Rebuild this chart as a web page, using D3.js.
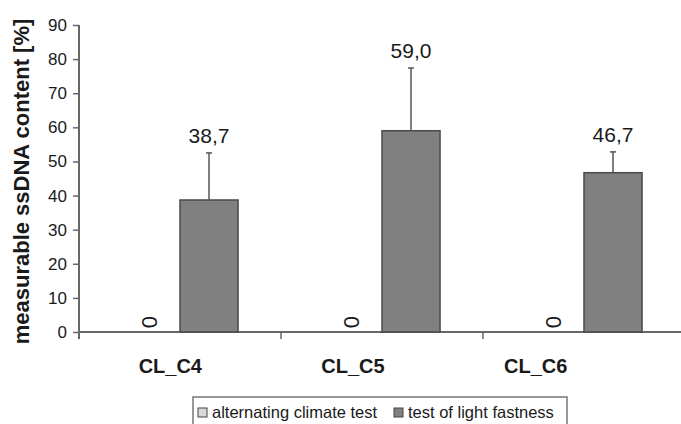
<!DOCTYPE html>
<html>
<head>
<meta charset="utf-8">
<script src="https://cdn.jsdelivr.net/npm/d3@7"></script>
<style>
  body { margin: 0; background: #fff; }
  text { font-family: "Liberation Sans", Arial, sans-serif; fill: #1a1a1a; }
</style>
</head>
<body>
<div id="chart"></div>
<script>
// data
var categories = ["CL_C4", "CL_C5", "CL_C6"]
var series = ["alternating climate test", "test of light fastness"]
var climateValues = [0, 0, 0]
var lightValues = [38.7, 59.0, 46.7]
var lightErrors = [13.8, 18.4, 6.1]
var valueLabels = ["38,7", "59,0", "46,7"]
var yTicks = [0, 10, 20, 30, 40, 50, 60, 70, 80, 90]

var W = 681, H = 424
var margin = {top: 25, left: 79, bottom: 92}
var plotH = H - margin.top - margin.bottom

var svg = d3.select("#chart")
  .append("svg")
    .attr("width", W)
    .attr("height", H)

var y = d3.scaleLinear()
  .domain([0, 90])
  .range([margin.top + plotH, margin.top])

var x = d3.scaleBand()
  .domain(categories)
  .range([margin.left, 685])

var xSub = d3.scaleBand()
  .domain(series)
  .range([0, x.bandwidth()])
  .paddingOuter(0.74)

// category labels sit a little left of the groups in the original
var xLabel = d3.scaleBand()
  .domain(categories)
  .range([margin.left, 627])

// y axis
var yAxis = svg.append("g")
  .attr("transform", "translate(" + margin.left + ",0)")
  .call(d3.axisLeft(y).tickValues(yTicks).tickSize(6).tickPadding(6))
yAxis.select(".domain").remove()
yAxis.selectAll(".tick line").attr("stroke", "#666").attr("stroke-width", 1.5)
yAxis.selectAll(".tick text")
  .style("font-size", "17px")
  .style("font-family", "'Liberation Sans', Arial, sans-serif")
  .attr("fill", "#1a1a1a")

svg.append("line")
  .attr("x1", margin.left).attr("x2", margin.left)
  .attr("y1", y(90)).attr("y2", y(0) + 7)
  .attr("stroke", "#666").attr("stroke-width", 2)

// x axis
svg.append("line")
  .attr("x1", margin.left).attr("x2", W)
  .attr("y1", y(0)).attr("y2", y(0))
  .attr("stroke", "#666").attr("stroke-width", 2)

svg.append("g")
  .selectAll("line")
  .data(categories.slice(1))
  .enter()
  .append("line")
    .attr("x1", d => x(d)).attr("x2", d => x(d))
    .attr("y1", y(0)).attr("y2", y(0) + 7)
    .attr("stroke", "#666").attr("stroke-width", 1.5)

svg.append("g")
  .selectAll("text")
  .data(categories)
  .enter()
  .append("text")
    .attr("x", d => xLabel(d) + xLabel.bandwidth() / 2)
    .attr("y", y(0) + 41)
    .attr("text-anchor", "middle")
    .style("font-size", "20px")
    .style("font-weight", "bold")
    .text(d => d)

// bars: light fastness
svg.append("g")
  .selectAll("rect")
  .data(categories)
  .enter()
  .append("rect")
    .attr("x", d => x(d) + xSub(series[1]))
    .attr("y", (d, i) => y(lightValues[i]))
    .attr("width", xSub.bandwidth())
    .attr("height", (d, i) => y(0) - y(lightValues[i]))
    .attr("fill", "#808080")
    .attr("stroke", "#4a4a4a")
    .attr("stroke-width", 1.5)

// error bars
var err = svg.append("g")
categories.forEach(function (d, i) {
  var cx = x(d) + xSub(series[1]) + xSub.bandwidth() / 2
  err.append("line")
    .attr("x1", cx).attr("x2", cx)
    .attr("y1", y(lightValues[i])).attr("y2", y(lightValues[i] + lightErrors[i]))
    .attr("stroke", "#555").attr("stroke-width", 1.5)
  err.append("line")
    .attr("x1", cx - 3).attr("x2", cx + 3)
    .attr("y1", y(lightValues[i] + lightErrors[i])).attr("y2", y(lightValues[i] + lightErrors[i]))
    .attr("stroke", "#555").attr("stroke-width", 1.5)
  svg.append("text")
    .attr("x", cx)
    .attr("y", y(lightValues[i] + lightErrors[i]) - 10)
    .attr("text-anchor", "middle")
    .style("font-size", "21px")
    .text(valueLabels[i])
})

// zero labels for climate test, rotated
svg.append("g")
  .selectAll("text")
  .data(categories)
  .enter()
  .append("text")
    .attr("transform", (d, i) => "translate(" + (x(d) + xSub(series[0]) + xSub.bandwidth() / 2 - 2) + "," + (y(climateValues[i]) - 10) + ") rotate(-90)")
    .attr("text-anchor", "middle")
    .attr("dy", "0.35em")
    .style("font-size", "22px")
    .text((d, i) => climateValues[i])

// y title
svg.append("text")
  .attr("transform", "translate(29," + (margin.top + plotH / 2 + 3) + ") rotate(-90)")
  .attr("text-anchor", "middle")
  .style("font-size", "22px")
  .style("font-weight", "bold")
  .text("measurable ssDNA content [%]")

// legend
var legend = svg.append("g").attr("transform", "translate(193,397)")
legend.append("rect")
  .attr("x", 0).attr("y", 0)
  .attr("width", 374).attr("height", 40)
  .attr("fill", "#fff")
  .attr("stroke", "#777")
  .attr("stroke-width", 1.5)

var legendFill = ["#d9d9d9", "#808080"]
var legendX = [5, 201]
series.forEach(function (s, i) {
  legend.append("rect")
    .attr("x", legendX[i]).attr("y", 11)
    .attr("width", 9).attr("height", 9)
    .attr("fill", legendFill[i])
    .attr("stroke", "#444")
    .attr("stroke-width", 1)
  legend.append("text")
    .attr("x", legendX[i] + 14)
    .attr("y", 21)
    .style("font-size", "16.5px")
    .text(s)
})
</script>
</body>
</html>
